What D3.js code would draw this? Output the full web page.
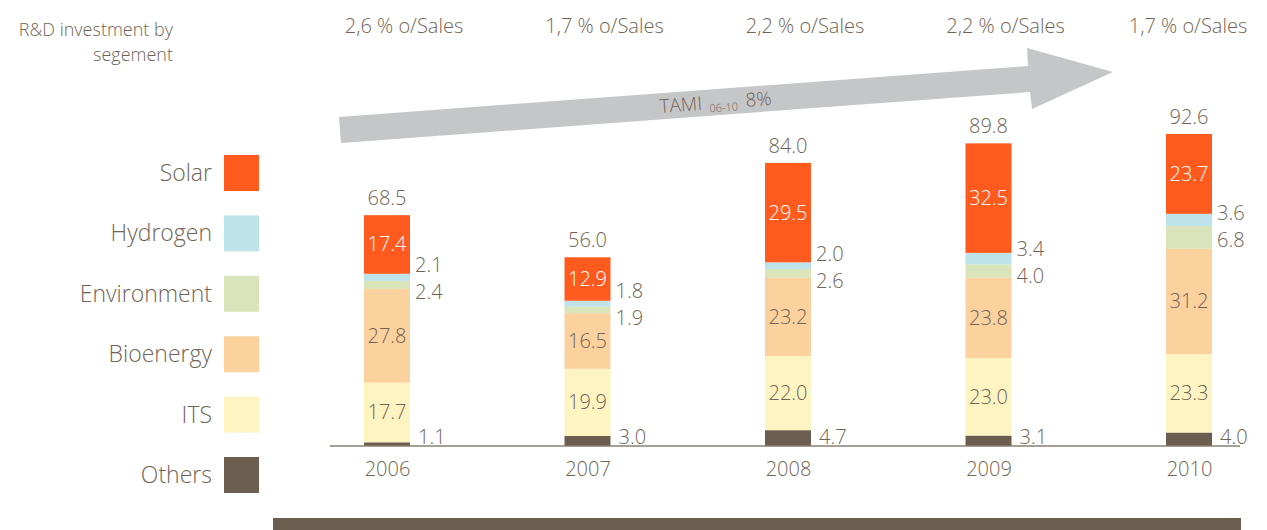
<!DOCTYPE html>
<html>
<head>
<meta charset="utf-8">
<script src="https://cdn.jsdelivr.net/npm/d3@7"></script>
<style>
  body { margin: 0; background: #fff; }
  text { font-family: "Open Sans", "Noto Sans", sans-serif; font-weight: 300; }
</style>
</head>
<body>
<div id="chart"></div>
<script>
const years = ["2006", "2007", "2008", "2009", "2010"];
const segments = ["Others", "ITS", "Bioenergy", "Environment", "Hydrogen", "Solar"];
const others = [1.1, 3.0, 4.7, 3.1, 4.0];
const its = [17.7, 19.9, 22.0, 23.0, 23.3];
const bioenergy = [27.8, 16.5, 23.2, 23.8, 31.2];
const environment = [2.4, 1.9, 2.6, 4.0, 6.8];
const hydrogen = [2.1, 1.8, 2.0, 3.4, 3.6];
const solar = [17.4, 12.9, 29.5, 32.5, 23.7];
const totals = [68.5, 56.0, 84.0, 89.8, 92.6];
const salesShare = ["2,6 % o/Sales", "1,7 % o/Sales", "2,2 % o/Sales", "2,2 % o/Sales", "1,7 % o/Sales"];
const growthLabel = "TAMI", growthSub = "06-10", growthValue = "8%";

let w = 1267, h = 530;
let textCol = "#716457";
let color = d3.scaleOrdinal()
    .domain(segments)
    .range(["#6b5e4e", "#fef4c2", "#fbd19e", "#dae4ba", "#bee3ea", "#ff5b1f"]);

let rows = years.map((y, i) => ({
    year: y, Others: others[i], ITS: its[i], Bioenergy: bioenergy[i],
    Environment: environment[i], Hydrogen: hydrogen[i], Solar: solar[i], total: totals[i]
}));
let series = d3.stack().keys(segments)(rows);
let byKey = {};
series.forEach(s => byKey[s.key] = s);

const svg = d3.select("#chart").append("svg")
    .attr("width", w).attr("height", h);

let x = d3.scalePoint().domain(years).range([387, 1189]);
let barW = 46;
let y = d3.scaleLinear().domain([0, 100]).range([446, 109]);

// growth arrow (annotation)
svg.append("polygon")
    .attr("points", "339,117 1028,66 1027,48 1113,72 1032,109 1030,92 341,143")
    .attr("fill", "#c5c6c8");
let tami = svg.append("text")
    .attr("transform", "translate(660,113) rotate(-4.2)")
    .attr("fill", textCol).style("font-size", "19px");
tami.append("tspan").text(growthLabel);
tami.append("tspan").attr("dx", 7).attr("dy", 3).style("font-size", "11px").text(growthSub);
tami.append("tspan").attr("dx", 8).attr("dy", -3).text(growthValue);

// title
svg.append("text").attr("x", 173).attr("y", 36).attr("text-anchor", "end")
    .attr("fill", textCol).style("font-size", "18px").text("R&D investment by");
svg.append("text").attr("x", 173).attr("y", 61).attr("text-anchor", "end")
    .attr("fill", textCol).style("font-size", "18px").text("segement");

// % of sales header
svg.selectAll(".sales").data(years).enter().append("text")
    .attr("class", "sales")
    .attr("x", (d) => Math.min(x(d) + 17, 1188))
    .attr("y", 33)
    .attr("text-anchor", "middle")
    .attr("fill", textCol).style("font-size", "20px")
    .text((d, i) => salesShare[i]);

// stacked bars
series.forEach(s => {
    svg.selectAll(".bar-" + s.key).data(s).enter().append("rect")
        .attr("x", (d) => x(d.data.year) - barW / 2)
        .attr("y", (d) => y(d[1]))
        .attr("width", barW)
        .attr("height", (d) => y(d[0]) - y(d[1]))
        .attr("fill", color(s.key));
});

// baseline
svg.append("line")
    .attr("x1", 330).attr("x2", 1240)
    .attr("y1", y(0)).attr("y2", y(0))
    .attr("stroke", "#8a7e72").attr("stroke-width", 1.5);

// labels inside bars
["ITS", "Bioenergy", "Solar"].forEach(k => {
    svg.selectAll(".in-" + k).data(byKey[k]).enter().append("text")
        .attr("x", (d) => x(d.data.year))
        .attr("y", (d) => (y(d[0]) + y(d[1])) / 2 + 7)
        .attr("text-anchor", "middle")
        .attr("fill", k == "Solar" ? "#ffffff" : textCol)
        .style("font-size", "20px")
        .text((d) => d3.format(".1f")(d.data[k]));
});

// labels right of bars
rows.forEach((r, i) => {
    let hy = byKey.Hydrogen[i], en = byKey.Environment[i];
    let hc = (y(hy[0]) + y(hy[1])) / 2, ec = (y(en[0]) + y(en[1])) / 2;
    let hyY = hc, enY = ec;
    if (ec - hc < 27) {
        let mid = (hc + ec) / 2;
        hyY = mid - 16; enY = mid + 11;
    }
    let xr = x(r.year) + barW / 2;
    let lab = [[hyY, xr + 5, r.Hydrogen], [enY, xr + 5, r.Environment], [y(0) - 9, xr + 8, r.Others]];
    lab.forEach(l => {
        svg.append("text").attr("x", l[1]).attr("y", l[0] + 7)
            .attr("fill", textCol).style("font-size", "20px")
            .text(d3.format(".1f")(l[2]));
    });
});

// totals
svg.selectAll(".total").data(rows).enter().append("text")
    .attr("x", (d) => x(d.year))
    .attr("y", (d) => y(d.total) - 10)
    .attr("text-anchor", "middle")
    .attr("fill", textCol).style("font-size", "20px")
    .text((d) => d3.format(".1f")(d.total));

// year axis
svg.append("g")
    .attr("transform", `translate(0,${y(0)})`)
    .call(d3.axisBottom(x).tickSize(0).tickPadding(16))
    .call(g => g.select(".domain").remove())
    .selectAll("text")
    .attr("fill", textCol)
    .style("font-size", "20px")
    .style("font-family", "'Open Sans', 'Noto Sans', sans-serif")
    .style("font-weight", 300);

// legend
let legendOrder = segments.slice().reverse();
let ly = d3.scalePoint().domain(legendOrder).range([173, 475]);
let legend = svg.append("g").attr("class", "legend");
legendOrder.forEach(k => {
    legend.append("rect")
        .attr("x", 224).attr("y", ly(k) - 18)
        .attr("width", 35).attr("height", 36)
        .attr("fill", color(k));
    legend.append("text")
        .attr("x", 212).attr("y", ly(k) + 8)
        .attr("text-anchor", "end")
        .attr("fill", textCol).style("font-size", "23px")
        .text(k);
});

// bottom band
svg.append("rect")
    .attr("x", 273).attr("y", 518).attr("width", 968).attr("height", 12)
    .attr("fill", "#6b5e4e");
</script>
</body>
</html>
